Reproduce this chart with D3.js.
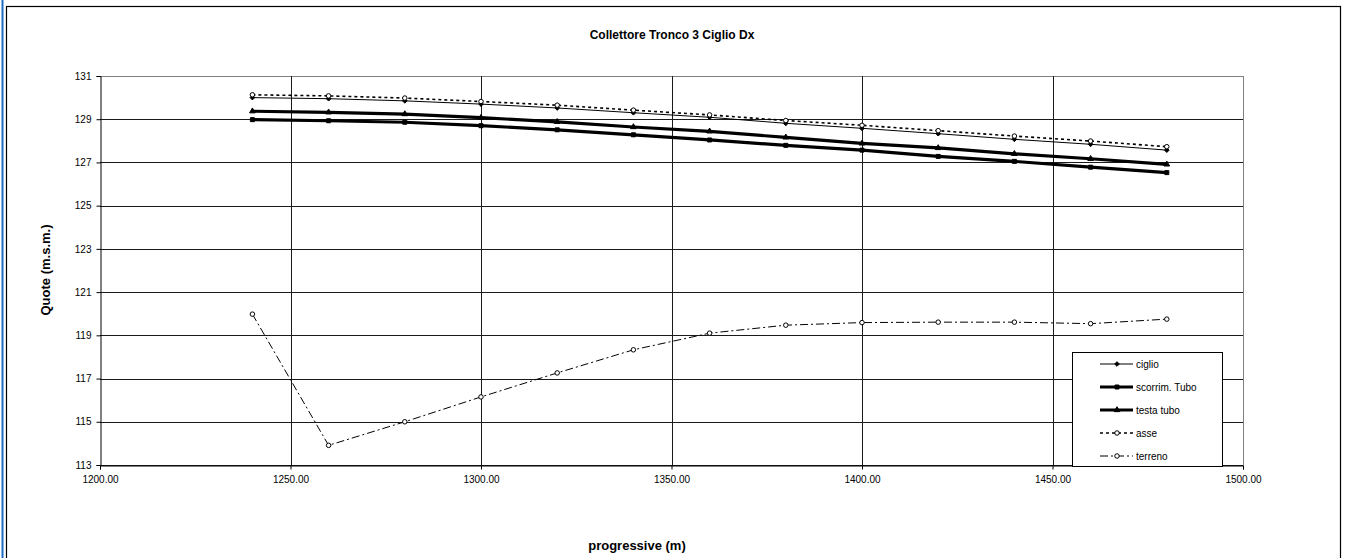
<!DOCTYPE html>
<html>
<head>
<meta charset="utf-8">
<script src="https://cdn.jsdelivr.net/npm/d3@7"></script>
<style>
  html, body { margin: 0; padding: 0; background: #fff; }
  svg { display: block; font-family: "Liberation Sans", Arial, sans-serif; }
</style>
</head>
<body>
<svg id="chart" width="1354" height="558"></svg>
<script>
// ---- data ----
const progressive = [1240, 1260, 1280, 1300, 1320, 1340, 1360, 1380, 1400, 1420, 1440, 1460, 1480];
const ciglio   = [130.00, 129.95, 129.85, 129.70, 129.52, 129.30, 129.09, 128.81, 128.58, 128.33, 128.07, 127.84, 127.57];
const scorrimTubo = [128.98, 128.93, 128.86, 128.70, 128.51, 128.28, 128.04, 127.79, 127.57, 127.28, 127.05, 126.78, 126.53];
const testaTubo = [129.37, 129.32, 129.24, 129.07, 128.88, 128.64, 128.44, 128.16, 127.88, 127.67, 127.40, 127.17, 126.91];
const asse     = [130.13, 130.08, 129.98, 129.82, 129.65, 129.42, 129.20, 128.94, 128.72, 128.47, 128.22, 127.99, 127.73];
const terreno  = [119.98, 113.91, 115.00, 116.15, 117.26, 118.33, 119.10, 119.47, 119.59, 119.61, 119.61, 119.54, 119.75];
const xTicks = [1200, 1250, 1300, 1350, 1400, 1450, 1500];
const yTicks = [113, 115, 117, 119, 121, 123, 125, 127, 129, 131];
const seriesNames = ["ciglio", "scorrim. Tubo", "testa tubo", "asse", "terreno"];
const titleText = "Collettore Tronco 3 Ciglio Dx";
const xTitle = "progressive (m)";
const yTitle = "Quote (m.s.m.)";

// ---- layout ----
const svg = d3.select("#chart");
const L = 100, R = 1243, T = 76, B = 465;
const x = d3.scaleLinear().domain([1200, 1500]).range([L, R]);
const y = d3.scaleLinear().domain([113, 131]).range([B, T]);

// outer decorations
svg.append("line").attr("x1", 2.5).attr("x2", 2.5).attr("y1", 0).attr("y2", 558)
  .attr("stroke", "#1a6fc4").attr("stroke-width", 2);
svg.append("rect").attr("x", 6.5).attr("y", 6.5).attr("width", 1334).attr("height", 560)
  .attr("fill", "none").attr("stroke", "#000").attr("stroke-width", 1.2);

// title
svg.append("text").attr("x", 672).attr("y", 39).attr("text-anchor", "middle")
  .attr("font-size", 12).attr("font-weight", "bold").text(titleText);

// gridlines
const g = svg.append("g");
g.selectAll(".hg").data(yTicks).enter().append("line")
  .attr("x1", L).attr("x2", R)
  .attr("y1", d => Math.round(y(d)) + 0.5).attr("y2", d => Math.round(y(d)) + 0.5)
  .attr("stroke", (d, i) => i === yTicks.length - 1 ? "#808080" : "#1a1a1a").attr("stroke-width", 1);
g.selectAll(".vg").data(xTicks.slice(1)).enter().append("line")
  .attr("y1", T).attr("y2", B)
  .attr("x1", d => Math.round(x(d)) + 0.5).attr("x2", d => Math.round(x(d)) + 0.5)
  .attr("stroke", (d, i) => i === xTicks.length - 2 ? "#808080" : "#1a1a1a").attr("stroke-width", 1);

// axes
const xAxis = d3.axisBottom(x).tickValues(xTicks).tickFormat(d3.format(".2f")).tickSize(4).tickPadding(6);
const yAxis = d3.axisLeft(y).tickValues(yTicks).tickFormat(d3.format("d")).tickSize(4).tickPadding(5);
const gx = svg.append("g").attr("transform", `translate(0,${Math.round(B) + 0.5})`).call(xAxis);
const gy = svg.append("g").attr("transform", `translate(${L + 0.5},0)`).call(yAxis);
[gx, gy].forEach(a => {
  a.selectAll("text").attr("font-size", 10).attr("fill", "#000").attr("font-family", "Liberation Sans, Arial, sans-serif");
  a.selectAll("line").attr("stroke", "#000");
  a.select(".domain").attr("stroke", "#000");
});

// axis titles
svg.append("text").attr("x", 637).attr("y", 550).attr("text-anchor", "middle")
  .attr("font-size", 13).attr("font-weight", "bold").text(xTitle);
svg.append("text").attr("transform", "translate(50,270) rotate(-90)").attr("text-anchor", "middle")
  .attr("font-size", 13).attr("font-weight", "bold").text(yTitle);

// series
const line = d3.line().x(d => x(d[0])).y(d => y(d[1]));
const styles = [
  { vals: ciglio, w: 1, dash: null, marker: "diamond" },
  { vals: scorrimTubo, w: 3.2, dash: null, marker: "square" },
  { vals: testaTubo, w: 3.2, dash: null, marker: "triangle" },
  { vals: asse, w: 1.6, dash: "3,3", marker: "circle" },
  { vals: terreno, w: 1, dash: "8,3,2,3", marker: "circle" }
];
const symType = { diamond: d3.symbolDiamond2, square: d3.symbolSquare, triangle: d3.symbolTriangle, circle: d3.symbolCircle };
const symSize = { diamond: 14, square: 16, triangle: 14, circle: 16 };
const markerFill = { diamond: "#000", square: "#000", triangle: "#000", circle: "#fff" };

const plot = svg.append("g");
styles.forEach(s => {
  const pts = progressive.map((p, i) => [p, s.vals[i]]);
  plot.append("path").attr("d", line(pts)).attr("fill", "none").attr("stroke", "#000")
    .attr("stroke-width", s.w).attr("stroke-dasharray", s.dash);
  plot.selectAll(null).data(pts).enter().append("path")
    .attr("d", d3.symbol().type(symType[s.marker]).size(symSize[s.marker]))
    .attr("transform", d => `translate(${x(d[0])},${y(d[1])})`)
    .attr("fill", markerFill[s.marker]).attr("stroke", "#000").attr("stroke-width", 1);
});

// legend
const lg = svg.append("g");
lg.append("rect").attr("x", 1072.5).attr("y", 352.5).attr("width", 150).attr("height", 114)
  .attr("fill", "#fff").attr("stroke", "#000").attr("stroke-width", 1);
const rowY = [364, 387, 410, 433, 456];
styles.forEach((s, i) => {
  lg.append("line").attr("x1", 1100).attr("x2", 1133).attr("y1", rowY[i]).attr("y2", rowY[i])
    .attr("stroke", "#000").attr("stroke-width", s.w).attr("stroke-dasharray", s.dash);
  lg.append("path").attr("d", d3.symbol().type(symType[s.marker]).size(symSize[s.marker]))
    .attr("transform", `translate(1117,${rowY[i]})`)
    .attr("fill", markerFill[s.marker]).attr("stroke", "#000").attr("stroke-width", 1);
  lg.append("text").attr("x", 1136).attr("y", rowY[i] + 3.5).attr("font-size", 10).text(seriesNames[i]);
});
</script>
</body>
</html>
